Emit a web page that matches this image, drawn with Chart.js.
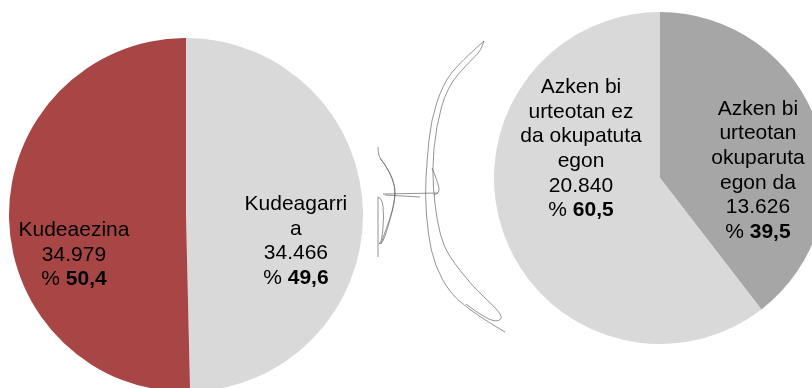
<!DOCTYPE html>
<html>
<head>
<meta charset="utf-8">
<script src="https://cdn.jsdelivr.net/npm/chart.js@4/dist/chart.umd.min.js"></script>
<style>
    html, body { margin: 0; padding: 0; background: #fff; overflow: hidden; width: 812px; height: 388px; }
    .pie { position: absolute; }
    #leftBox { left: 9px; top: 38px; width: 354px; height: 354px; }
    #rightBox { left: 494px; top: 12px; width: 332px; height: 332px; }
    #scribble { position: absolute; left: 0; top: 0; pointer-events: none; }
</style>
</head>
<body>
<div class="pie" id="leftBox"><canvas id="leftPie"></canvas></div>
<div class="pie" id="rightBox"><canvas id="rightPie"></canvas></div>
<svg id="scribble" width="812" height="388"></svg>

<script>
// Left pie: Kudeagarria / Kudeaezina
const leftCategories = [['Kudeagarri', 'a'], ['Kudeaezina']]
const leftValues = [34466, 34979]
const leftColors = ['#d9d9d9', '#a84646']

// Right pie: split of the Kudeagarria part
const rightCategories = [
    ['Azken bi', 'urteotan', 'okuparuta', 'egon da'],
    ['Azken bi', 'urteotan ez', 'da okupatuta', 'egon']
]
const rightValues = [13626, 20840]
const rightColors = ['#a6a6a6', '#d9d9d9']

const FONT = '"Liberation Sans", Arial, sans-serif'

function thousands(n) {
    return String(n).replace(/\B(?=(\d{3})+(?!\d))/g, '.')
}

// Draws "name / value / % pct" inside each slice, pct in bold
const sliceLabels = {
    id: 'sliceLabels',
    afterDatasetsDraw(chart, args, opts) {
        const ctx = chart.ctx
        const values = chart.data.datasets[0].data
        const total = values.reduce((a, b) => a + b, 0)
        const lh = opts.lineHeight
        ctx.save()
        ctx.fillStyle = '#000'
        ctx.textBaseline = 'middle'
        chart.getDatasetMeta(0).data.forEach((arc, i) => {
            const r = arc.outerRadius
            const cx = arc.x + opts.anchors[i][0] * r
            const cy = arc.y + opts.anchors[i][1] * r
            const lines = chart.data.labels[i].concat([thousands(values[i])])
            const count = lines.length + 1
            let y = cy - (count - 1) * lh / 2

            ctx.font = '21px ' + FONT
            ctx.textAlign = 'center'
            lines.forEach(t => {
                ctx.fillText(t, cx, y)
                y += lh
            })

            const pct = (values[i] / total * 100).toFixed(1).replace('.', ',')
            const pre = '% '
            const w1 = ctx.measureText(pre).width
            ctx.font = 'bold 21px ' + FONT
            const w2 = ctx.measureText(pct).width
            const x0 = cx - (w1 + w2) / 2
            ctx.textAlign = 'left'
            ctx.font = '21px ' + FONT
            ctx.fillText(pre, x0, y)
            ctx.font = 'bold 21px ' + FONT
            ctx.fillText(pct, x0 + w1, y)
        })
        ctx.restore()
    }
}

function makePie(el, labels, values, colors, anchors) {
    return new Chart(el, {
        type: 'pie',
        data: {
            labels: labels,
            datasets: [{
                data: values,
                backgroundColor: colors,
                borderWidth: 0
            }]
        },
        options: {
            responsive: true,
            maintainAspectRatio: false,
            animation: false,
            events: [],
            layout: { padding: 0 },
            plugins: {
                legend: { display: false },
                tooltip: { enabled: false },
                sliceLabels: { anchors: anchors, lineHeight: 24.6 }
            }
        },
        plugins: [sliceLabels]
    })
}

makePie(document.getElementById('leftPie'), leftCategories, leftValues, leftColors,
    [[0.621, 0.147], [-0.633, 0.226]])
makePie(document.getElementById('rightPie'), rightCategories, rightValues, rightColors,
    [[0.59, -0.045], [-0.476, -0.175]])

// hand-drawn connector between the two pies
const strokes = [
    [[484, 41], [460, 62], [443, 84], [431, 120], [427, 160], [425, 195], [428, 235], [435, 266], [450, 293], [470, 310], [490, 323], [505, 332]],
    [[484, 41], [481, 51], [470, 61], [447, 87], [436, 127], [432, 170], [435, 207], [440, 235], [448, 255], [473, 287], [497, 309], [503, 319], [494, 322], [478, 313], [466, 304]],
    [[432, 168], [437, 180], [440, 192], [434, 195]],
    [[383, 194], [438, 193]],
    [[385, 195], [420, 197]],
    [[378, 147], [378, 156], [385, 164], [393, 180], [396, 193], [392, 213], [387, 230], [383, 242], [379, 244]],
    [[380, 158], [389, 170], [396, 188], [393, 210], [385, 232], [381, 244]],
    [[378, 197], [378, 257]],
    [[378, 197], [382, 198], [384, 215], [382, 240], [379, 244]]
]

function smoothPath(pts) {
    let d = 'M' + pts[0][0] + ' ' + pts[0][1]
    if (pts.length === 2) return d + ' L' + pts[1][0] + ' ' + pts[1][1]
    for (let i = 1; i < pts.length - 1; i++) {
        const mx = (pts[i][0] + pts[i + 1][0]) / 2
        const my = (pts[i][1] + pts[i + 1][1]) / 2
        d += ' Q' + pts[i][0] + ' ' + pts[i][1] + ' ' + mx + ' ' + my
    }
    const last = pts[pts.length - 1]
    return d + ' L' + last[0] + ' ' + last[1]
}

const svg = document.getElementById('scribble')
strokes.forEach(pts => {
    const p = document.createElementNS('http://www.w3.org/2000/svg', 'path')
    p.setAttribute('d', smoothPath(pts))
    p.setAttribute('fill', 'none')
    p.setAttribute('stroke', '#666')
    p.setAttribute('stroke-width', '0.7')
    svg.appendChild(p)
})
</script>
</body>
</html>
